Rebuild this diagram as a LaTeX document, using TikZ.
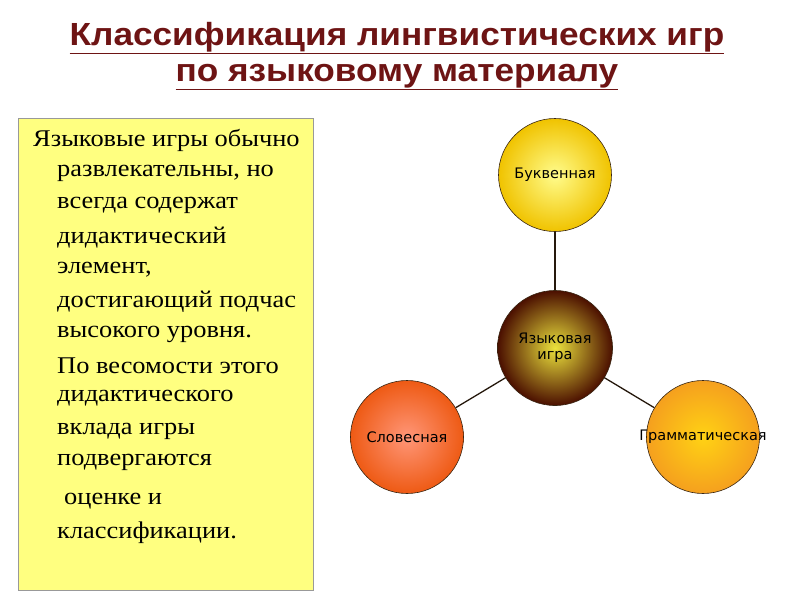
\documentclass[tikz,border=0pt]{standalone}
\usepackage{fontspec}
\setmainfont{Liberation Serif}
\newfontfamily\titlefont{Liberation Sans}
\newfontfamily\labfont{DejaVu Sans}
\definecolor{boxfill}{RGB}{255,255,128}
\definecolor{titlered}{RGB}{110,20,20}
\tikzset{
  ball/.style={circle,draw=black!70!brown,line width=0.6pt,minimum size=#1,inner sep=0pt},
  lab/.style={inner sep=0pt,align=center,font=\labfont\fontsize{14.5}{17}\selectfont},
  txt/.style={anchor=west,inner sep=0pt,font=\fontsize{24}{26}\selectfont,xscale=1.1},
  ttl/.style={inner sep=0pt,font=\titlefont\bfseries\fontsize{32}{34}\selectfont,text=titlered,xscale=1.1},
  link/.style={draw=black!80!brown,line width=1.3pt}
}
\begin{document}
\begin{tikzpicture}[x=1pt,y=-1pt]
\useasboundingbox (0,0) rectangle (800,600);
\fill[white] (0,0) rectangle (800,600);
\node[ttl] (t1) at (397,38) {\underline{Классификация лингвистических игр}};
\node[ttl] (t2) at (397,77) {\underline{по языковому материалу}};
\draw[fill=boxfill,draw=black!40] (18,118) rectangle (313,590);
\node[txt] (l1) at (33,140) {Языковые игры обычно};
\node[txt] (l2) at (57,173) {развлекательны, но};
\node[txt] (l3) at (57,205) {всегда содержат};
\node[txt] (l4) at (57,238) {дидактический};
\node[txt] (l5) at (57,270) {элемент,};
\node[txt] (l6) at (57,302) {достигающий подчас};
\node[txt] (l7) at (57,334) {высокого уровня.};
\node[txt] (l8) at (57,366) {По весомости этого};
\node[txt] (l9) at (57,398) {дидактического};
\node[txt] (l10) at (57,431) {вклада игры};
\node[txt] (l11) at (57,462) {подвергаются};
\node[txt] (l12) at (64,501) {оценке и};
\node[txt] (l13) at (57,533) {классификации.};
\node[ball=113pt,shading=radial,inner color={rgb,255:red,255;green,252;blue,140},outer color={rgb,255:red,240;green,195;blue,0}] (top) at (555,175) {};
\node[ball=113pt,shading=radial,inner color={rgb,255:red,255;green,150;blue,120},outer color={rgb,255:red,238;green,90;blue,20}] (left) at (407,437) {};
\node[ball=113pt,shading=radial,inner color={rgb,255:red,255;green,210;blue,20},outer color={rgb,255:red,245;green,160;blue,30}] (right) at (703,437) {};
\draw[link] (top) -- (555,348);
\draw[link] (left) -- (555,348);
\draw[link] (right) -- (555,348);
\node[ball=115pt,shading=radial,inner color={rgb,255:red,235;green,225;blue,60},outer color={rgb,255:red,75;green,15;blue,0}] (mid) at (555,348) {};
\node[lab] (ltop) at (top) {Буквенная};
\node[lab] (lleft) at (left) {Словесная};
\node[lab] (lright) at (right) {Грамматическая};
\node[lab] (lmid) at (mid) {Языковая\\[-1pt]игра};
\end{tikzpicture}
\end{document}
